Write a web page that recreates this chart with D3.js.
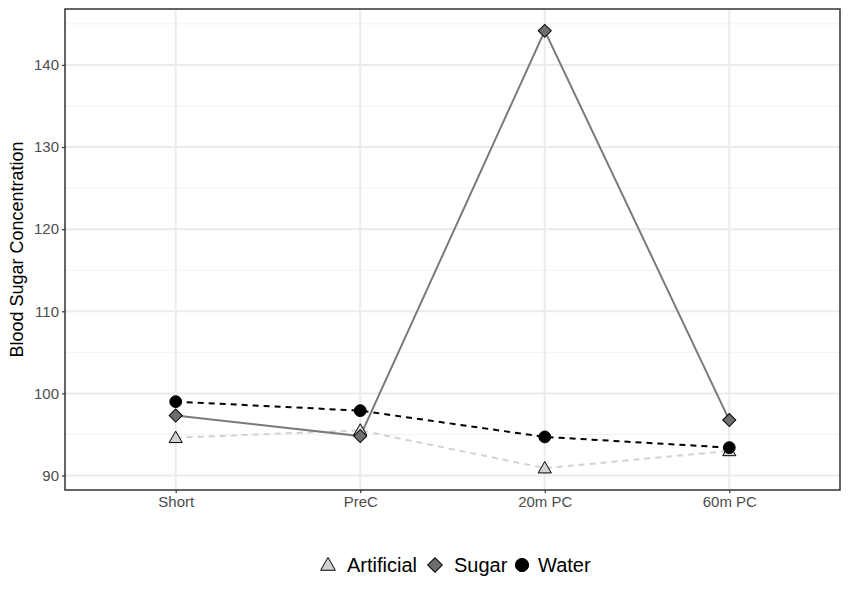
<!DOCTYPE html>
<html>
<head>
<meta charset="utf-8">
<script src="https://cdn.jsdelivr.net/npm/d3@7"></script>
<style>
  body { margin: 0; background: #fff; }
  text { font-family: "Liberation Sans", Arial, sans-serif; }
</style>
</head>
<body>
<div id="viz"></div>
<script>
// categories on the x axis, and one series per drink
const timepoints = ["Short", "PreC", "20m PC", "60m PC"];
const groups = ["Artificial", "Sugar", "Water"];
const artificialValues = [94.6, 95.5, 90.9, 93.0];
const sugarValues = [97.3, 94.8, 144.15, 96.75];
const waterValues = [99.0, 97.9, 94.7, 93.4];
const yTicks = [90, 100, 110, 120, 130, 140];
const yMinor = [95, 105, 115, 125, 135, 145];

const series = [
  { name: "Artificial", values: artificialValues, line: "#d2d2d2", fill: "#d2d2d2", dash: "6,5", shape: "triangle" },
  { name: "Sugar", values: sugarValues, line: "#7a7a7a", fill: "#6e6e6e", dash: null, shape: "diamond" },
  { name: "Water", values: waterValues, line: "#000000", fill: "#000000", dash: "6,5", shape: "circle" }
];

const width = 850, height = 608;
const margin = { top: 9, right: 10, bottom: 118, left: 65 };
const w = width - margin.left - margin.right;   // 775
const h = height - margin.top - margin.bottom;  // 481

const svg = d3.select("#viz").append("svg")
    .attr("width", width)
    .attr("height", height);

const g = svg.append("g")
    .attr("transform", "translate(" + margin.left + "," + margin.top + ")");

// discrete x scale with ggplot-like 0.6 expansion
const xScale = d3.scalePoint()
    .domain(timepoints)
    .range([0, w])
    .padding(0.6);

// y domain with 5% expansion of the data range
const allVals = [].concat(artificialValues, sugarValues, waterValues);
const [lo, hi] = d3.extent(allVals);
const pad = (hi - lo) * 0.05;
const yScale = d3.scaleLinear()
    .domain([lo - pad, hi + pad])
    .range([h, 0]);

// minor grid
g.append("g").selectAll("line")
  .data(yMinor.filter(v => v < yScale.domain()[1]))
  .join("line")
    .attr("x1", 0).attr("x2", w)
    .attr("y1", d => yScale(d)).attr("y2", d => yScale(d))
    .attr("stroke", "#f2f2f2").attr("stroke-width", 1);

// major grid
g.append("g").selectAll("line")
  .data(yTicks)
  .join("line")
    .attr("x1", 0).attr("x2", w)
    .attr("y1", d => yScale(d)).attr("y2", d => yScale(d))
    .attr("stroke", "#ebebeb").attr("stroke-width", 2);
g.append("g").selectAll("line")
  .data(timepoints)
  .join("line")
    .attr("x1", d => xScale(d)).attr("x2", d => xScale(d))
    .attr("y1", 0).attr("y2", h)
    .attr("stroke", "#ebebeb").attr("stroke-width", 2);

// axes
const xAxis = d3.axisBottom(xScale).tickSize(3).tickPadding(3);
const xAxisG = g.append("g")
    .attr("transform", "translate(0," + h + ")")
    .call(xAxis);
const yAxis = d3.axisLeft(yScale).tickValues(yTicks).tickSize(3).tickPadding(3);
const yAxisG = g.append("g").call(yAxis);
[xAxisG, yAxisG].forEach(a => {
  a.select(".domain").remove();
  a.selectAll(".tick line").attr("stroke", "#333333").attr("stroke-width", 1.2);
  a.selectAll(".tick text")
    .attr("fill", "#4d4d4d")
    .style("font-size", "15px")
    .style("font-family", "'Liberation Sans', Arial, sans-serif");
});

// lines
const line = d3.line()
    .x((d, i) => xScale(timepoints[i]))
    .y(d => yScale(d));

series.forEach(s => {
  g.append("path")
    .datum(s.values)
    .attr("fill", "none")
    .attr("stroke", s.line)
    .attr("stroke-width", 2)
    .attr("stroke-dasharray", s.dash)
    .attr("d", line);
});

// marker shapes: ggplot-like triangle, square-rotated diamond, circle
function marker(sel, shape, scale) {
  if (shape === "triangle") {
    sel.attr("d", d3.symbol(d3.symbolTriangle, 75 * scale * scale)());
  } else if (shape === "diamond") {
    sel.attr("d", d3.symbol(d3.symbolSquare, 85 * scale * scale)())
       .attr("transform", function() { return (d3.select(this).attr("transform") || "") + " rotate(45)"; });
  } else {
    sel.attr("d", d3.symbol(d3.symbolCircle, 110 * scale * scale)());
  }
}

// points
series.forEach(s => {
  g.append("g").selectAll("path")
    .data(s.values)
    .join("path")
      .attr("transform", (d, i) => {
        const dy = s.shape === "triangle" ? 1 : 0;
        return "translate(" + xScale(timepoints[i]) + "," + (yScale(d) + dy) + ")";
      })
      .call(marker, s.shape, 1)
      .attr("fill", s.fill)
      .attr("stroke", "#000")
      .attr("stroke-width", 1);
});

// panel border
g.append("rect")
    .attr("x", 0).attr("y", 0)
    .attr("width", w).attr("height", h)
    .attr("fill", "none")
    .attr("stroke", "#333333")
    .attr("stroke-width", 1.5);

// y axis label
svg.append("text")
    .attr("transform", "translate(23," + (margin.top + h / 2) + ") rotate(-90)")
    .attr("text-anchor", "middle")
    .style("font-size", "18px")
    .attr("fill", "#000")
    .text("Blood Sugar Concentration");

// legend at bottom
const legendX = [328, 435, 522];
const legend = svg.append("g").attr("transform", "translate(0,565)");
series.forEach((s, i) => {
  legend.append("path")
    .attr("transform", "translate(" + legendX[i] + "," + (s.shape === "triangle" ? 1 : 0) + ")")
    .call(marker, s.shape, 1.12)
    .attr("fill", s.fill)
    .attr("stroke", "#000")
    .attr("stroke-width", 1);
  legend.append("text")
    .attr("x", legendX[i] + (i === 2 ? 16 : 19))
    .attr("y", 7)
    .style("font-size", "20px")
    .attr("fill", "#000")
    .text(s.name);
});
</script>
</body>
</html>
